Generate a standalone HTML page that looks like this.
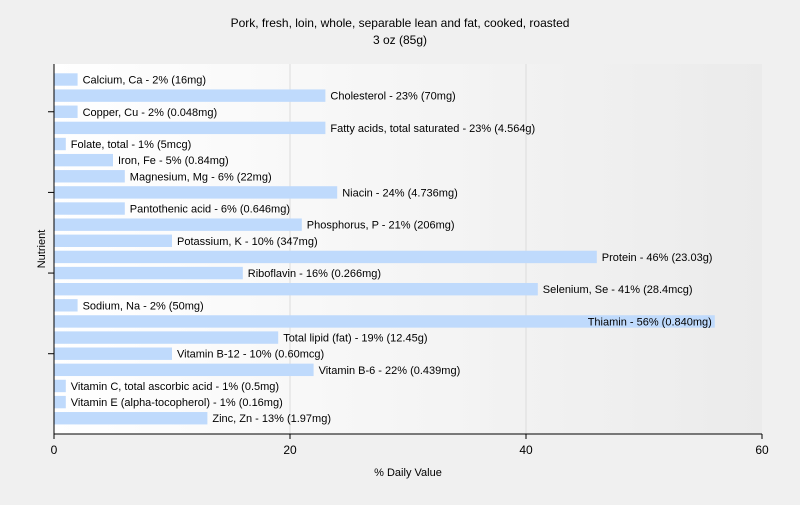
<!DOCTYPE html>
<html><head><meta charset="utf-8"><style>
body{margin:0;background:#f0f0f0;font-family:"Liberation Sans",sans-serif;}
svg text{font-family:"Liberation Sans",sans-serif;}
</style></head><body>
<svg width="800" height="500" xmlns="http://www.w3.org/2000/svg">
<defs><linearGradient id="g" x1="0" x2="1" y1="0" y2="0"><stop offset="0" stop-color="#ffffff"/><stop offset="1" stop-color="#ebebeb"/></linearGradient></defs>
<rect width="800" height="500" fill="#f0f0f0"/>
<text x="400" y="27" text-anchor="middle" font-size="12">Pork, fresh, loin, whole, separable lean and fat, cooked, roasted</text>
<text x="400" y="44" text-anchor="middle" font-size="12">3 oz (85g)</text>
<rect x="54" y="64" width="708" height="370" fill="url(#g)"/>
<g id="grid"></g><g id="bars"></g><g id="axes"></g>
<text x="408" y="476" text-anchor="middle" font-size="11">% Daily Value</text>
<text x="45" y="249" text-anchor="middle" font-size="11" transform="rotate(-90 45 249)">Nutrient</text>
</svg>
<script>
const labels=["Calcium, Ca - 2% (16mg)","Cholesterol - 23% (70mg)","Copper, Cu - 2% (0.048mg)","Fatty acids, total saturated - 23% (4.564g)","Folate, total - 1% (5mcg)","Iron, Fe - 5% (0.84mg)","Magnesium, Mg - 6% (22mg)","Niacin - 24% (4.736mg)","Pantothenic acid - 6% (0.646mg)","Phosphorus, P - 21% (206mg)","Potassium, K - 10% (347mg)","Protein - 46% (23.03g)","Riboflavin - 16% (0.266mg)","Selenium, Se - 41% (28.4mcg)","Sodium, Na - 2% (50mg)","Thiamin - 56% (0.840mg)","Total lipid (fat) - 19% (12.45g)","Vitamin B-12 - 10% (0.60mcg)","Vitamin B-6 - 22% (0.439mg)","Vitamin C, total ascorbic acid - 1% (0.5mg)","Vitamin E (alpha-tocopherol) - 1% (0.16mg)","Zinc, Zn - 13% (1.97mg)"];
const values=[2,23,2,23,1,5,6,24,6,21,10,46,16,41,2,56,19,10,22,1,1,13];
const xTicks=[0,20,40,60];
const NS="http://www.w3.org/2000/svg";
const x0=54,x1=762,xmax=60,top0=73.3,band=16.13,bh=12.4,yb=434;
const xs=v=>x0+(v/xmax)*(x1-x0);
const yc=i=>top0+i*band+bh/2;
function mk(tag,attrs,parent){const e=document.createElementNS(NS,tag);for(const k in attrs)e.setAttribute(k,attrs[k]);parent.appendChild(e);return e;}
const grid=document.getElementById('grid'),bars=document.getElementById('bars'),axes=document.getElementById('axes');
xTicks.forEach(t=>{if(t>0&&t<xmax){const l=mk('line',{x1:xs(t),x2:xs(t),y1:64,y2:yb,stroke:'#dcdcdc'},grid);

}
const tk=mk('line',{x1:xs(t),x2:xs(t),y1:yb,y2:yb+5,stroke:'#000'},axes);


const tx=mk('text',{x:xs(t),y:yb+20,'text-anchor':'middle','font-size':'12'},axes);tx.textContent=t;

});
values.forEach((v,i)=>{const w=xs(v)-x0;
const r=mk('rect',{x:x0,y:yc(i)-bh/2,width:w,height:bh,fill:'#bfdafc'},bars);


const t=mk('text',{x:xs(v)+5,y:yc(i)+4,'font-size':'11','text-anchor':'start'},bars);t.textContent=labels[i];


const tw=t.getComputedTextLength();
if(xs(v)+5+tw>x1){t.setAttribute('x',xs(v)-3);t.setAttribute('text-anchor','end');}
if(i%5===2){const k=mk('line',{x1:x0-6,x2:x0,y1:yc(i),y2:yc(i),stroke:'#000'},axes);

}});
const ya=mk('line',{x1:x0,x2:x0,y1:64,y2:yb,stroke:'#000'},axes);


const xa=mk('line',{x1:x0,x2:x1,y1:yb,y2:yb,stroke:'#000'},axes);


</script>
</body></html>
